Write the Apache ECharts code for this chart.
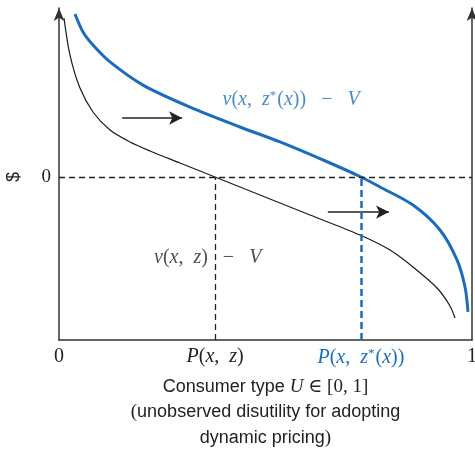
<!DOCTYPE html>
<html>
<head>
<meta charset="utf-8">
<script src="https://cdn.jsdelivr.net/npm/echarts@6/dist/echarts.min.js"></script>
<style>html,body{margin:0;padding:0;background:#fff}#c{width:475px;height:452px}</style>
</head>
<body>
<div id="c"></div>
<script>
// ---- data ----
const blackX = [0.0121, 0.0266, 0.0508, 0.0823, 0.1235, 0.1719, 0.2203, 0.2930, 0.3777, 0.4867, 0.6077, 0.7288, 0.8015, 0.8571, 0.9153, 0.9467, 0.9588];
const blackY = [0.975, 0.748, 0.546, 0.399, 0.288, 0.215, 0.160, 0.086, 0.000, -0.110, -0.233, -0.356, -0.448, -0.552, -0.681, -0.791, -0.865];
const blueX = [0.0387, 0.0581, 0.0823, 0.1235, 0.2034, 0.3172, 0.4383, 0.5351, 0.6562, 0.7312, 0.7772, 0.8571, 0.9225, 0.9637, 0.9831, 0.9903];
const blueY = [1.000, 0.890, 0.810, 0.706, 0.564, 0.429, 0.307, 0.215, 0.086, 0.000, -0.061, -0.172, -0.325, -0.509, -0.675, -0.828];
const xTickValues = [0, 0.378, 0.731, 1];
const xTickLabels = ['{n|0}', '{i|P}{n|(}{i|x}{n|,  }{i|z}{n|)}', '{bi|P}{bn|(}{bi|x}{bn|,  }{bi|z}{bs|*}{bn|(}{bi|x}{bn|))}', '{n|1}'];
const yTickValues = [0];
const yTickLabels = ['0'];
const arrow1 = [[0.153, 0.362], [0.298, 0.362]];
const arrow2 = [[0.651, -0.215], [0.799, -0.215]];
const pZ = 0.378, pZstar = 0.731;
const yMin = -1, yMax = 1.037;

const BLUE = '#1b6dbb';
const serif = '"Liberation Serif", "DejaVu Serif", serif';
const sans = '"Liberation Sans", Arial, sans-serif';

const chart = echarts.init(document.getElementById('c'), null, {renderer: 'canvas'});
const mathRich = {
  n: {fontFamily: serif, fontSize: 20, color: '#222'},
  i: {fontFamily: serif, fontSize: 20, fontStyle: 'italic', color: '#222'},
  bn: {fontFamily: serif, fontSize: 20, color: BLUE},
  bi: {fontFamily: serif, fontSize: 20, fontStyle: 'italic', color: BLUE},
  bs: {fontFamily: serif, fontSize: 13, color: BLUE, verticalAlign: 'top', padding: [0, 1, 9, 0]}
};
const axisLineStyle = {color: '#333', width: 1.5};

chart.setOption({
  animation: false,
  grid: {left: 59, right: 3, top: 8, bottom: 112, containLabel: false, outerBoundsMode: 'none'},
  xAxis: {
    type: 'value', min: 0, max: 1,
    axisLine: {show: true, onZero: false, lineStyle: axisLineStyle},
    axisTick: {show: false},
    splitLine: {show: false},
    axisLabel: {
      customValues: xTickValues,
      margin: 7,
      formatter: function (v) {
        const i = xTickValues.indexOf(v);
        return i >= 0 ? xTickLabels[i] : '';
      },
      rich: mathRich
    },
    name: '{s|Consumer type }{mi|U}{m| ∈ [0, 1]}\n{m|(}{s|unobserved disutility for adopting}\n{s|dynamic pricing}{m|)}',
    nameLocation: 'middle',
    nameGap: 34,
    nameTextStyle: {
      lineHeight: 25.5,
      rich: {
        s: {fontFamily: sans, fontSize: 18, color: '#222', lineHeight: 25.5},
        m: {fontFamily: serif, fontSize: 19, color: '#222', lineHeight: 25.5},
        mi: {fontFamily: serif, fontSize: 19, fontStyle: 'italic', color: '#222', lineHeight: 25.5}
      }
    }
  },
  yAxis: [{
    type: 'value', min: yMin, max: yMax,
    axisLine: {show: true, onZero: false, lineStyle: axisLineStyle, symbol: ['none', 'arrow'], symbolSize: [8, 13]},
    axisTick: {show: false},
    splitLine: {show: false},
    axisLabel: {
      customValues: yTickValues,
      margin: 8,
      formatter: function (v) { const i = yTickValues.indexOf(v); return i >= 0 ? yTickLabels[i] : ''; },
      fontFamily: serif, fontSize: 19, color: '#222'
    }
  }, {
    type: 'value', min: yMin, max: yMax, position: 'right',
    axisLine: {show: true, onZero: false, lineStyle: axisLineStyle, symbol: ['none', 'arrow'], symbolSize: [8, 13]},
    axisTick: {show: false},
    splitLine: {show: false},
    axisLabel: {show: false}
  }],
  series: [{
    type: 'line', name: 'base',
    data: blackX.map((x, i) => [x, blackY[i]]),
    smooth: 0.3, showSymbol: false, silent: true,
    lineStyle: {color: '#1a1a1a', width: 1.2},
    markLine: {
      silent: true, symbol: ['none', 'none'], label: {show: false},
      lineStyle: {color: '#222', width: 1.3, type: [6, 4]},
      data: [
        [{coord: [0, 0]}, {coord: [1, 0]}],
        [{coord: [pZ, yMin]}, {coord: [pZ, 0]}],
        [{coord: arrow1[0], symbol: 'none', lineStyle: {type: 'solid', width: 1.5, color: '#222'}},
         {coord: arrow1[1], symbol: 'arrow', symbolSize: [10, 13]}],
        [{coord: arrow2[0], symbol: 'none', lineStyle: {type: 'solid', width: 1.5, color: '#222'}},
         {coord: arrow2[1], symbol: 'arrow', symbolSize: [10, 13]}]
      ]
    }
  }, {
    type: 'line', name: 'optimal',
    data: blueX.map((x, i) => [x, blueY[i]]),
    smooth: 0.3, showSymbol: false, silent: true,
    lineStyle: {color: BLUE, width: 3},
    markLine: {
      silent: true, symbol: ['none', 'none'], label: {show: false},
      lineStyle: {color: BLUE, width: 2.5, type: [7, 4]},
      data: [[{coord: [pZstar, yMin]}, {coord: [pZstar, 0]}]]
    }
  }, {
    type: 'scatter', silent: true, symbolSize: 0,
    data: [
      {value: [0.562, 0.472], label: {formatter: '{bi|ν}{bn|(}{bi|x}{bn|,  }{bi|z}{bs|*}{bn|(}{bi|x}{bn|))   −   }{bi|V}'}},
      {value: [0.36, -0.497], label: {formatter: '{i|ν}{n|(}{i|x}{n|,  }{i|z}{n|)   −   }{i|V}'}}
    ],
    label: {show: true, position: 'inside', rich: mathRich}
  }],
  graphic: [{
    type: 'text', x: 14, y: 177, rotation: Math.PI / 2,
    style: {text: '$', fontFamily: sans, fontSize: 18, fill: '#222', align: 'center', verticalAlign: 'middle'}
  }]
});
</script>
</body>
</html>
